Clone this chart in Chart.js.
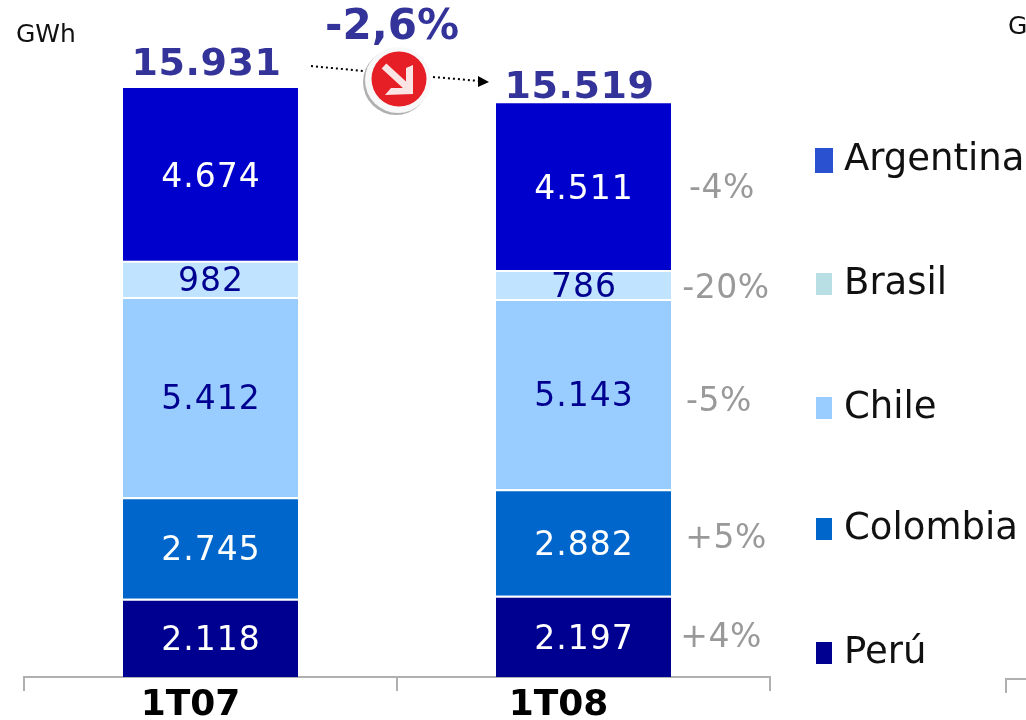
<!DOCTYPE html>
<html><head><meta charset="utf-8">
<style>html,body{margin:0;padding:0;background:#fff;overflow:hidden}canvas{display:block}</style>
<script src="https://cdn.jsdelivr.net/npm/chart.js@4"></script>
</head><body><canvas id="c" width="1026" height="720"></canvas>
<script>
const categories = ['1T07','1T08'];
const peru = [2118,2197];
const colombia = [2745,2882];
const chile = [5412,5143];
const brasil = [982,786];
const argentina = [4674,4511];
const totals = ['15.931','15.519'];
const changes = ['+4%','+5%','-5%','-20%','-4%'];
const seriesNames = ['Perú','Colombia','Chile','Brasil','Argentina'];
const barColors = ['#000090','#0066CC','#99CCFF','#C0E4FF','#0000CC'];
const legendColors = ['#000090','#0066CC','#99CCFF','#B8E0E4','#2A52D0'];
const labelColors = ['#fff','#fff','#000090','#000090','#fff'];
const seriesValues = [peru,colombia,chile,brasil,argentina];
const fmt = v => v>=1000 ? Math.floor(v/1000)+'.'+String(v%1000).padStart(3,'0') : String(v);

const changePos = [[721,636],[726,537],[719,400],[726,287],[722,187]];
const legendY = [650,526,405,281,157];
const totalGap = [26,18];
const tickShift = [-20,-25];
const F = '"DejaVu Sans"';

function txt(ctx,s,x,y,font,color,align,ls){
  const size=parseFloat(font.match(/([\d.]+)px/)[1]);
  ctx.font=font;ctx.fillStyle=color;ctx.textAlign=align||'center';ctx.textBaseline='middle';
  ctx.letterSpacing=ls||'0px';ctx.fillText(s,x,y+size*0.08);ctx.letterSpacing='0px';
}
function dotted(ctx,x0,y0,x1,y1){
  ctx.save();ctx.strokeStyle='#000';ctx.lineWidth=2;ctx.setLineDash([2,3]);
  ctx.beginPath();ctx.moveTo(x0,y0);ctx.lineTo(x1,y1);ctx.stroke();ctx.restore();
}
const overlay={id:'overlay',afterDraw(chart){
  const ctx=chart.ctx;ctx.save();
  // category labels, from the x scale
  const xs=chart.scales.x;
  categories.forEach((c,j)=>txt(ctx,xs.getLabelForValue(j),xs.getPixelForValue(j)+tickShift[j],703,'bold 36px '+F,'#000'));
  // segment labels
  seriesValues.forEach((vals,i)=>{
    const meta=chart.getDatasetMeta(i);
    vals.forEach((v,j)=>{
      const el=meta.data[j];
      txt(ctx,fmt(v),el.x+0.5,(el.y+el.base)/2+1,'33px '+F,labelColors[i],'center','1px');
    });
  });
  // totals
  const top=chart.getDatasetMeta(4).data;
  totals.forEach((t,j)=>txt(ctx,t,top[j].x-4,top[j].y-totalGap[j],'bold 38px '+F,'#333399','center','0.6px'));
  // change labels
  changes.forEach((s,i)=>txt(ctx,s,changePos[i][0],changePos[i][1],'33px '+F,'#999999','center','0.5px'));
  // legend
  seriesNames.forEach((s,i)=>{
    ctx.fillStyle=legendColors[i];
    if(i===4) ctx.fillRect(815,legendY[i]-9,18,25);
    else ctx.fillRect(816,legendY[i]-8,16,22);
    txt(ctx,s,844,legendY[i],'37px '+F,'#111','left');
  });
  // unit texts
  txt(ctx,'GWh',16,33,'25px '+F,'#111','left');
  txt(ctx,'GWh',1008,25,'25px '+F,'#111','left');
  txt(ctx,'-2,6%',392,25,'bold 42px '+F,'#333399');
  // dotted arrow
  dotted(ctx,311,66,363,71);
  dotted(ctx,433,77,480,81);
  ctx.fillStyle='#000';ctx.beginPath();ctx.moveTo(489,82);ctx.lineTo(478,76);ctx.lineTo(478,87);ctx.closePath();ctx.fill();
  // icon
  ctx.fillStyle='#B0B0B0';ctx.beginPath();ctx.arc(396,82,33,0,Math.PI*2);ctx.fill();
  ctx.fillStyle='#F8F8F8';ctx.beginPath();ctx.arc(398,80,33,0,Math.PI*2);ctx.fill();
  ctx.fillStyle='#E61E25';ctx.beginPath();ctx.arc(399,79,27.5,0,Math.PI*2);ctx.fill();
  ctx.strokeStyle='#FBE4E4';ctx.lineWidth=7;ctx.beginPath();ctx.moveTo(384,66);ctx.lineTo(408,88);ctx.stroke();
  ctx.fillStyle='#FBE4E4';ctx.beginPath();ctx.moveTo(413,65);ctx.lineTo(413,94);ctx.lineTo(385,95);ctx.lineTo(391,88);ctx.lineTo(406,88);ctx.lineTo(406,68);ctx.closePath();ctx.fill();
  // neighbouring axis fragment
  ctx.strokeStyle='#B0B0B0';ctx.lineWidth=2;ctx.beginPath();ctx.moveTo(1006,693);ctx.lineTo(1006,679);ctx.lineTo(1026,679);ctx.stroke();
  ctx.restore();
}};
new Chart(document.getElementById('c'),{
  type:'bar',
  data:{labels:categories,datasets:seriesValues.map((d,i)=>({
    label:seriesNames[i],data:d,backgroundColor:barColors[i],
    borderColor:'#fff',borderSkipped:false,
    borderWidth:{top:i===4?0:2,bottom:0,left:0,right:0},
    barPercentage:175/373,categoryPercentage:1
  }))},
  options:{responsive:false,animation:false,
    layout:{padding:{left:24,right:256,top:11.5,bottom:0}},
    plugins:{legend:{display:false},tooltip:{enabled:false},title:{display:false}},
    scales:{
      x:{stacked:true,offset:true,
        afterFit:s=>{s.height=43;},
        border:{display:true,color:'#B0B0B0',width:2},
        grid:{offset:true,drawOnChartArea:false,drawTicks:true,tickLength:14,color:'#B0B0B0',lineWidth:2},
        ticks:{display:false}
      },
      y:{stacked:true,display:false,min:0,max:18000}
    }
  },
  plugins:[overlay]
});
</script></body></html>
